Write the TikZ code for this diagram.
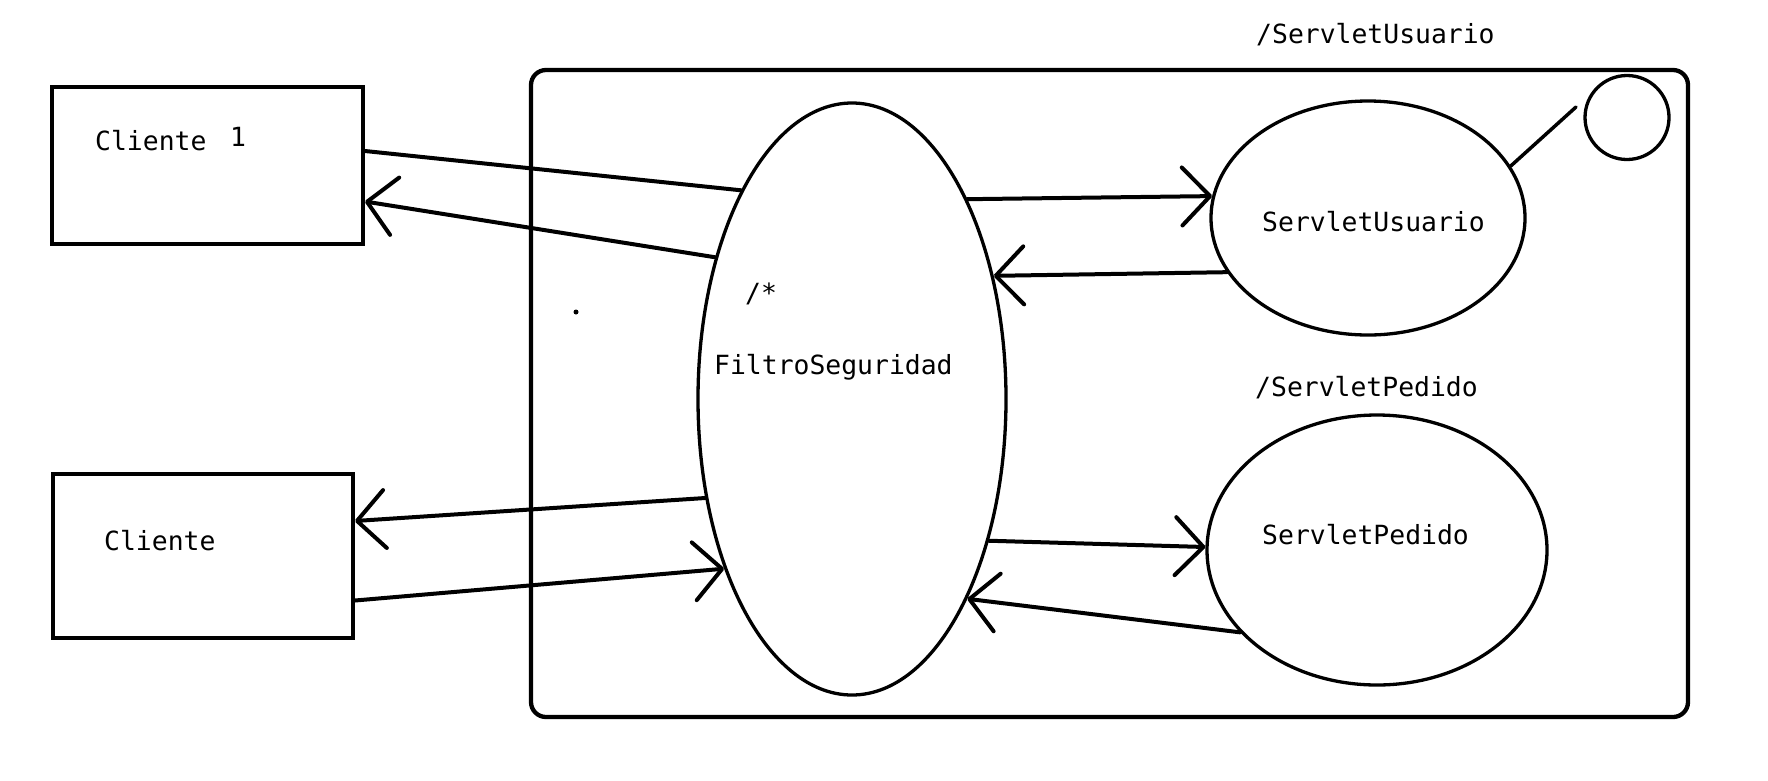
\documentclass[tikz,border=0pt]{standalone}
\usepackage{fontspec}
\setmainfont{DejaVu Sans Mono}
\usetikzlibrary{arrows.meta,shapes.geometric}
\begin{document}
\begin{tikzpicture}[x=1pt,y=-1pt,
  boxnode/.style={draw,line width=4pt,inner sep=0pt},
  ell/.style={ellipse,draw,line width=3.3pt,inner sep=0pt},
  lbl/.style={inner sep=0pt,anchor=base west,font=\fontsize{26.4}{30}\selectfont},
  conn/.style={line width=4pt,line cap=round},
  arr/.style={-{Straight Barb[length=28pt,width=58pt,round]}}]
\useasboundingbox[fill=white] (0,0) rectangle (1768,780);
% container
\node[draw,line width=4.3pt,rounded corners=15pt,inner sep=0pt,
      minimum width=1157pt,minimum height=647pt] (cont) at (1109.5,393.5) {};
% clients
\node[boxnode,minimum width=311pt,minimum height=157pt] (box1) at (207.5,165.5) {};
\node[boxnode,minimum width=300pt,minimum height=164pt] (box2) at (203,556) {};
% ellipses
\node[ell,minimum width=308pt,minimum height=592pt] (filtro) at (852,399) {};
\node[ell,minimum width=314pt,minimum height=234pt] (su) at (1368,218) {};
\node[ell,minimum width=340pt,minimum height=270pt] (sp) at (1377,550) {};
\node[circle,draw,line width=3.3pt,inner sep=0pt,minimum size=84pt] (circ) at (1627,117.5) {};
% labels
\node[lbl] (t1) at (95,150) {Cliente};
\node[lbl] (t1n) at (230,146) {1};
\node[lbl] (t2) at (104,550) {Cliente};
\node[lbl] (tsu) at (1256,43) {/ServletUsuario};
\node[lbl] (tsu2) at (1262,231) {ServletUsuario};
\node[lbl] (tsp) at (1255,396) {/ServletPedido};
\node[lbl] (tsp2) at (1262,544) {ServletPedido};
\node[lbl] (tstar) at (745,302) {/*};
\node[lbl] (tfil) at (714,374) {FiltroSeguridad};
\fill (576,312) circle (2.5pt);
% connectors
\draw[conn] ([yshift=14.5pt]box1.east) -- (filtro.118.1);
\draw[conn,arr] (filtro.134) -- ([yshift=-36pt]box1.east);
\draw[conn,arr] (filtro.60.2) -- (su.172.9);
\draw[conn,arr] (su.201.8) -- (filtro.41.8);
\draw[conn,arr] (filtro.214.5) -- ([yshift=35pt]box2.east);
\draw[conn,arr] ([yshift=-44.5pt]box2.east) -- (filtro.233.2);
\draw[conn,arr] (filtro.314.8) -- (sp.179.7);
\draw[conn,arr] (sp.211) -- (filtro.300.6);
\coordinate (lineend) at (1576,107);
\draw[conn,line width=3.5pt] (su.20.1) -- (lineend);
\end{tikzpicture}
\end{document}
